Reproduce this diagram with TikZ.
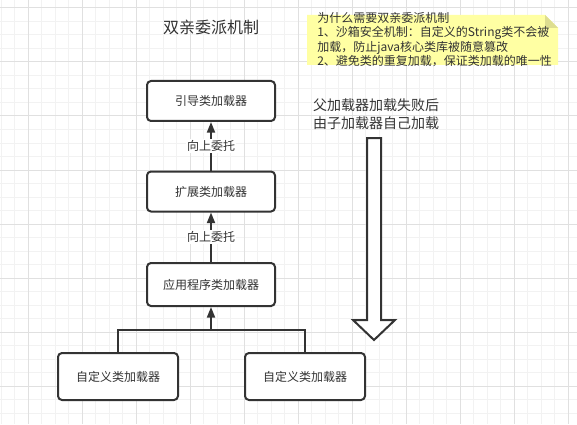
\documentclass[tikz,border=0pt]{standalone}
\usepackage{fontspec}
\setmainfont{Noto Sans CJK SC}
\usetikzlibrary{arrows.meta}
\definecolor{ink}{HTML}{333333}
\definecolor{gminor}{HTML}{F2F2F2}
\definecolor{gmajor}{HTML}{E0E0E0}
\definecolor{notefill}{HTML}{FFFFA3}
\definecolor{notefold}{HTML}{DEDE90}
\tikzset{
  box/.style={draw=ink, line width=1.5pt, rounded corners=3pt, fill=white, text=ink,
    minimum width=96pt, minimum height=30pt, inner sep=0pt, font=\fontsize{9pt}{11pt}\selectfont},
  smallbox/.style={box, minimum width=90pt, minimum height=35.25pt},
  conn/.style={draw=ink, line width=1.5pt},
  arr/.style={conn, -{Triangle[length=8pt,width=6pt]}},
  lbl/.style={fill=white, text=ink, inner sep=1pt, font=\fontsize{9pt}{11pt}\selectfont},
  notetext/.style={anchor=base west, inner sep=0pt, text=ink, font=\fontsize{9pt}{11pt}\selectfont},
  sidetext/.style={anchor=base, inner sep=0pt, text=ink, font=\fontsize{10.5pt}{12pt}\selectfont},
}
\begin{document}
\begin{tikzpicture}[x=0.75pt,y=-0.75pt]
\useasboundingbox (0,0) rectangle (577,424);
\fill[white] (0,0) rectangle (577,424);
% grid
\foreach \x in {1,14.5,...,577} \draw[gminor,line width=0.75pt] (\x,0) -- (\x,424);
\foreach \y in {-5.5,8,...,424} \draw[gminor,line width=0.75pt] (0,\y) -- (577,\y);
\foreach \x in {28,82,...,577} \draw[gmajor,line width=0.75pt] (\x,0) -- (\x,424);
\foreach \y in {8,62,...,424} \draw[gmajor,line width=0.75pt] (0,\y) -- (577,\y);

% title
\node[anchor=base, inner sep=0pt, text=ink, font=\fontsize{12pt}{14pt}\selectfont] (title) at (211,34) {双亲委派机制};

% note
\fill[notefill] (307,15) -- (545,15) -- (558,28) -- (558,65) -- (307,65) -- cycle;
\fill[notefold] (545,15) -- (545,28) -- (558,28) -- cycle;
\node[notetext] (n1) at (317,22.5) {为什么需要双亲委派机制};
\node[notetext] (n2) at (317,36.8) {1、沙箱安全机制：自定义的String类不会被};
\node[notetext] (n3) at (317,51.1) {加载，防止java核心类库被随意篡改};
\node[notetext] (n4) at (317,65.4) {2、避免类的重复加载，保证类加载的唯一性};

% boxes
\node[box] (boot) at (211,101) {引导类加载器};
\node[box] (ext) at (211,191.5) {扩展类加载器};
\node[box, minimum height=32.25pt] (app) at (211,284.5) {应用程序类加载器};
\node[smallbox] (c1) at (118,376.5) {自定义类加载器};
\node[smallbox] (c2) at (305,376.5) {自定义类加载器};

% connectors
\draw[arr] (ext) -- node[lbl] (l1) {向上委托} (boot);
\draw[arr] (app) -- node[lbl] (l2) {向上委托} (ext);
\coordinate (j) at (211,330);
\draw[conn] (c1.north) |- (j);
\draw[conn] (c2.north) |- (j);
\draw[arr] (j) -- (app.south);

% side text and big arrow
\node[sidetext] (s1) at (376,110.5) {父加载器加载失败后};
\node[sidetext] (s2) at (376,128.5) {由子加载器自己加载};
\draw[draw=ink, fill=white, line width=1.5pt, line join=miter]
  (367,138) -- (381,138) -- (381,320) -- (395,320) -- (374,340) -- (353,320) -- (367,320) -- cycle;
\end{tikzpicture}
\end{document}
